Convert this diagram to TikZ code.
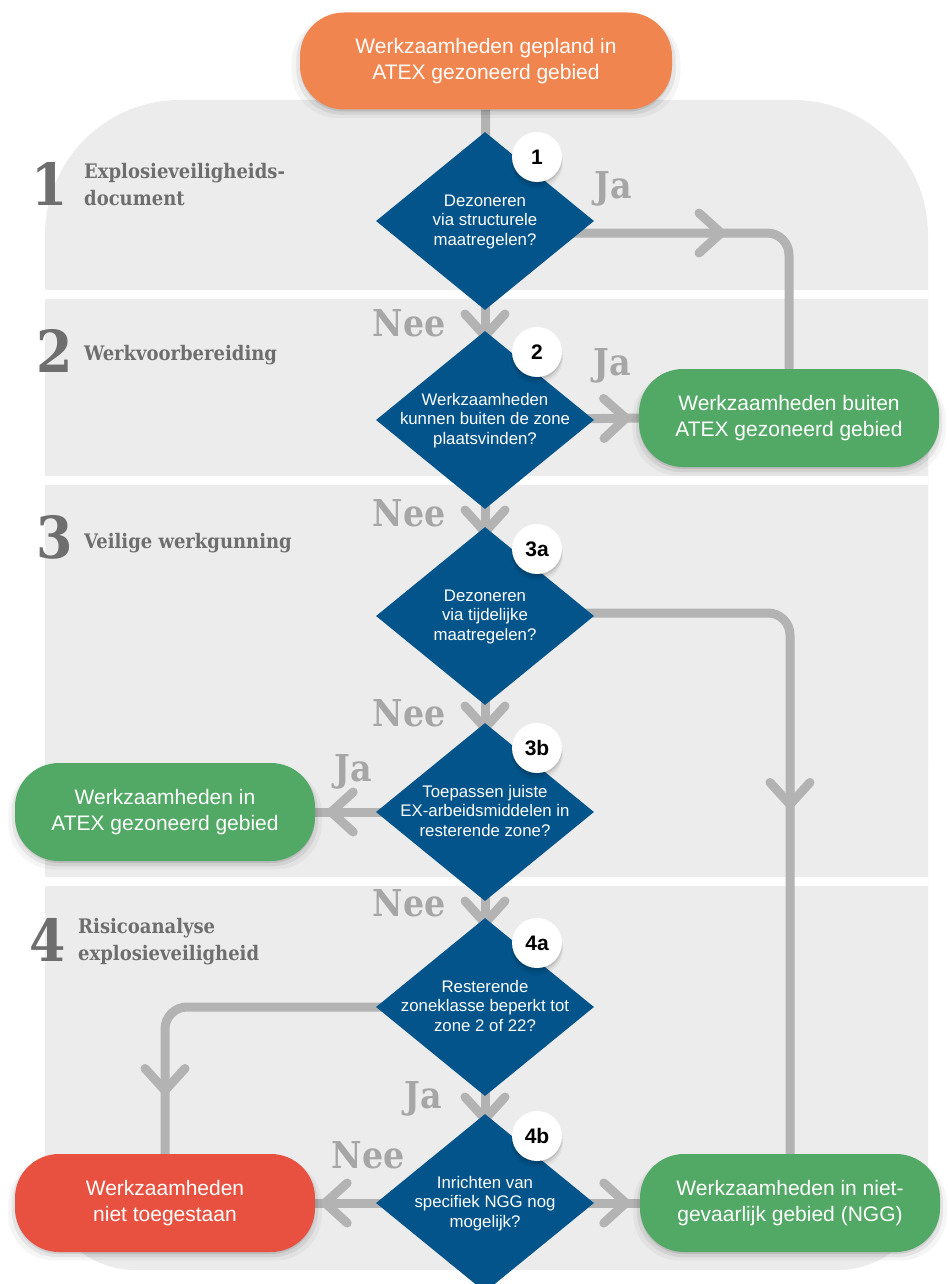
\documentclass[tikz,border=0pt]{standalone}
\usepackage{fontspec}
\setmainfont{Liberation Sans}
\newfontfamily\slab{DejaVu Serif Condensed}
\usetikzlibrary{shapes.geometric,decorations.markings,shadows,calc}
\definecolor{bggrey}{HTML}{ECECEC}
\definecolor{conngrey}{HTML}{B3B3B3}
\definecolor{lblgrey}{HTML}{A6A6A6}
\definecolor{secgrey}{HTML}{6E6E6E}
\definecolor{orangeA}{HTML}{F0854F}
\definecolor{blueD}{HTML}{02548B}
\definecolor{greenB}{HTML}{52A865}
\definecolor{redB}{HTML}{E85140}
\newcommand\dtext[1]{\smash{\makebox[0pt]{\raisebox{-0.3em}{\begin{tabular}{@{}c@{}}#1\end{tabular}}}}}
\pgfdeclarelayer{front}
\pgfsetlayers{main,front}
\tikzset{
 conn/.style={draw=conngrey, line width=9pt},
 chevron/.style={draw=conngrey, line width=9pt, line cap=round, line join=round, sharp corners},
 chev/.style={postaction={decorate, decoration={markings, mark=at position #1 with {\draw[chevron] (-22pt,-20pt) -- (0pt,0pt) -- (-22pt,20pt);}}}},
 softshadow/.style={
   drop shadow={shadow xshift=0pt, shadow yshift=-2pt, opacity=0.10, fill=black},
   drop shadow={shadow xshift=0pt, shadow yshift=-4pt, shadow scale=1.02, opacity=0.07, fill=black},
   drop shadow={shadow xshift=0pt, shadow yshift=-6pt, shadow scale=1.045, opacity=0.04, fill=black}},
 box/.style={rounded corners=44pt, minimum width=300pt, minimum height=98pt, text=white, align=center, inner sep=0pt,
   font=\fontsize{21}{26}\selectfont, softshadow},
 dia/.style={diamond, fill=blueD, minimum width=218pt, minimum height=178pt, inner sep=0pt, text=white,
   font=\fontsize{16.8}{19.5}\selectfont},
 badge/.style={circle, fill=white, minimum size=50pt, inner sep=0pt, font=\bfseries\fontsize{21}{21}\selectfont, softshadow},
 yn/.style={text=lblgrey, inner sep=0pt, font=\slab\bfseries\fontsize{37}{37}\selectfont},
 secnum/.style={text=secgrey, inner sep=0pt, font=\slab\bfseries\fontsize{58}{58}\selectfont},
 sectxt/.style={text=secgrey, inner sep=0pt, font=\slab\bfseries\fontsize{20}{27}\selectfont, align=left, anchor=west},
}
\begin{document}
\begin{tikzpicture}[x=1pt,y=-1pt]
\path[use as bounding box, clip] (0,0) rectangle (949,1284);
% background bands
\fill[bggrey, rounded corners=135pt] (45,100) rectangle (928,900);
\fill[bggrey, rounded corners=90pt] (45,300) rectangle (928,1270);
\fill[white] (45,290) rectangle (928,299);
\fill[white] (45,476) rectangle (928,485);
\fill[white] (45,877) rectangle (928,886);

\begin{pgfonlayer}{front}
% boxes
\node[box, fill=orangeA, minimum width=372pt, minimum height=97pt] (start) at (486,61) {Werkzaamheden gepland in\\ATEX gezoneerd gebied};
\node[box, fill=greenB] (g2) at (789,418) {Werkzaamheden buiten\\ATEX gezoneerd gebied};
\node[box, fill=greenB] (g3) at (165,812) {Werkzaamheden in\\ATEX gezoneerd gebied};
\node[box, fill=redB] (red) at (165,1203) {Werkzaamheden\\niet toegestaan};
\node[box, fill=greenB] (ngg) at (790,1203) {Werkzaamheden in niet-\\gevaarlijk gebied (NGG)};

% diamonds
\node[dia] (d1) at (485,221) {\dtext{Dezoneren\\via structurele\\maatregelen?}};
\node[dia] (d2) at (485,420) {\dtext{Werkzaamheden\\kunnen buiten de zone\\plaatsvinden?}};
\node[dia] (d3a) at (485,616) {\dtext{Dezoneren\\via tijdelijke\\maatregelen?}};
\node[dia] (d3b) at (485,812) {\dtext{Toepassen juiste\\EX-arbeidsmiddelen in\\resterende zone?}};
\node[dia] (d4a) at (485,1007) {\dtext{Resterende\\zoneklasse beperkt tot\\zone 2 of 22?}};
\node[dia] (d4b) at (485,1203) {\dtext{Inrichten van\\specifiek NGG nog\\mogelijk?}};

% badges
\node[badge] (b1) at (537,157) {1};
\node[badge] (b2) at (537,352) {2};
\node[badge] (b3a) at (537,549) {3a};
\node[badge] (b3b) at (537,748) {3b};
\node[badge] (b4a) at (537,943) {4a};
\node[badge] (b4b) at (537,1136) {4b};
\end{pgfonlayer}

% connectors (main layer, below the nodes)
\draw[conn] (start) -- (d1.center);
\draw[conn, chev=-84pt] (d1.center) -- (d2.center);
\draw[conn, chev=-84pt] (d2.center) -- (d3a.center);
\draw[conn, chev=-84pt] (d3a.center) -- (d3b.center);
\draw[conn, chev=-84pt] (d3b.center) -- (d4a.center);
\draw[conn, chev=-84pt] (d4a.center) -- (d4b.center);
\draw[conn, rounded corners=22pt, chev=236pt] ([yshift=-12pt]d1.center) -| (g2.north);
\draw[conn, chev=-13pt] (d2.center) -- (g2.west);
\draw[conn, rounded corners=22pt, chev=487pt] ([yshift=3pt]d3a.center) -| (ngg.north);
\draw[conn, chev=-16pt] (d3b.center) -- (g3.east);
\draw[conn, rounded corners=22pt, chev=394pt] (d4a.center) -| (red.north);
\draw[conn, chev=-10pt] (d4b.center) -- (red.east);
\draw[conn, chev=-14pt] (d4b.center) -- (ngg.west);

% yes/no labels
\node[yn] (ja1) at (613,189) {Ja};
\node[yn] (nee1) at (409,323) {Nee};
\node[yn] (ja2) at (612,366) {Ja};
\node[yn] (nee2) at (409,513) {Nee};
\node[yn] (nee3) at (409,713) {Nee};
\node[yn] (ja3) at (353,772) {Ja};
\node[yn] (nee4) at (409,903) {Nee};
\node[yn] (ja4) at (423,1099) {Ja};
\node[yn] (nee5) at (368,1155) {Nee};

% section labels
\node[secnum] (n1) at (50,184) {1};
\node[sectxt] (s1) at (84,185) {Explosieveiligheids-\\document};
\node[secnum] (n2) at (55,351) {2};
\node[sectxt] (s2) at (84,355) {Werkvoorbereiding};
\node[secnum] (n3) at (55,537) {3};
\node[sectxt] (s3) at (84,543) {Veilige werkgunning};
\node[secnum] (n4) at (48,940) {4};
\node[sectxt] (s4) at (78,942) {Risicoanalyse\\explosieveiligheid};
\end{tikzpicture}
\end{document}
